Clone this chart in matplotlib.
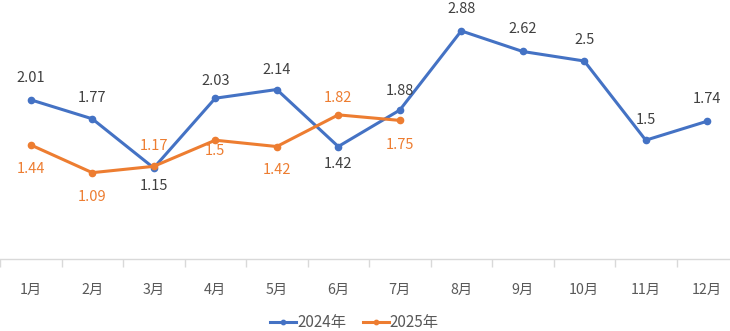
import matplotlib
matplotlib.use("Agg")
import matplotlib.pyplot as plt
import numpy as np

plt.rcParams['font.family'] = ['Noto Sans CJK SC', 'DejaVu Sans']

months = ["1月", "2月", "3月", "4月", "5月", "6月", "7月", "8月", "9月", "10月", "11月", "12月"]
s2024 = [2.01, 1.77, 1.15, 2.03, 2.14, 1.42, 1.88, 2.88, 2.62, 2.5, 1.5, 1.74]
s2025 = [1.44, 1.09, 1.17, 1.5, 1.42, 1.82, 1.75]
name2024 = "2024年"
name2025 = "2025年"

# label offsets in pixels (positive = above point)
off2024 = [22, 21, -18, 17, 20, -17, 19, 22, 22, 21, 20, 22]
off2025 = [-24, -24, 20, -11, -23, 17, -25]

blue = "#4472C4"
orange = "#ED7D31"

fig = plt.figure(figsize=(7.30, 3.31), dpi=100)
ax = fig.add_axes([0, (331 - 259) / 331, 738 / 730, 237.6 / 331])

x24 = np.arange(len(s2024))
x25 = np.arange(len(s2025))
ax.plot(x24, s2024, color=blue, lw=2.2, marker='o', ms=4.5, label=name2024, zorder=3)
ax.plot(x25, s2025, color=orange, lw=2.2, marker='o', ms=4.5, label=name2025, zorder=3)

for xi, v, o in zip(x24, s2024, off2024):
    ax.annotate(f"{v:g}", (xi, v), xytext=(0, o * 0.72), textcoords='offset points',
                ha='center', va='center', fontsize=10.5, color='#404040')
for xi, v, o in zip(x25, s2025, off2025):
    ax.annotate(f"{v:g}", (xi, v), xytext=(0, o * 0.72), textcoords='offset points',
                ha='center', va='center', fontsize=10.5, color=orange)

ax.set_xlim(-0.5, len(months) - 0.5)
ax.set_ylim(0, 3)
ax.set_xticks(x24)
ax.set_xticklabels(months, fontsize=10.3, color='#595959')
ax.set_xticks(np.arange(len(months) + 1) - 0.5, minor=True)
ax.tick_params(axis='x', which='major', length=0, pad=17)
ax.tick_params(axis='x', which='minor', length=5.5, color='#d9d9d9', width=1)
ax.set_yticks([])
for sp in ['top', 'right', 'left']:
    ax.spines[sp].set_visible(False)
ax.spines['bottom'].set_color('#d9d9d9')
ax.spines['bottom'].set_linewidth(1)

leg = fig.legend(loc='center', bbox_to_anchor=(354.5 / 730, (331 - 323) / 331), ncol=2, frameon=False,
                 fontsize=11, handlelength=1.7, columnspacing=1.1, handletextpad=0.05,
                 markerscale=0.7, borderpad=0)
for t in leg.get_texts():
    t.set_color('#595959')

fig.savefig("out.png", dpi=100)
